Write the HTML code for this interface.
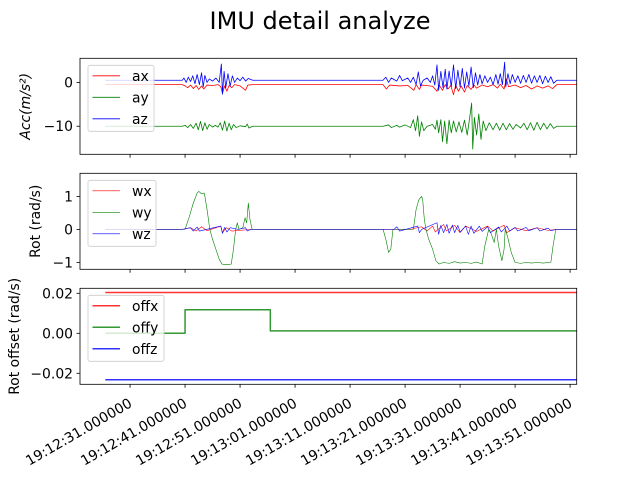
<!DOCTYPE html>
<html><head><meta charset="utf-8"><style>
body{margin:0;background:#fff}
svg{display:block;font-family:"DejaVu Sans","Liberation Sans",sans-serif}
</style></head><body>
<svg id="fig" width="640" height="480" viewBox="0 0 640 480">
<text x="320" y="29" font-size="24" text-anchor="middle" fill="#000">IMU detail analyze</text>
<g id="plots"></g>
</svg>
<script>
const xTickLabels=["19:12:31.000000","19:12:41.000000","19:12:51.000000","19:13:01.000000","19:13:11.000000","19:13:21.000000","19:13:31.000000","19:13:41.000000","19:13:51.000000"];
const xTickSecs=[31,41,51,61,71,81,91,101,111];
const accTicks=[0,-10];
const rotTicks=[1,0,-1];
const offTicks=[0.02,0.00,-0.02];
const offTickLabels=["0.02","0.00","\u22120.02"];
const ax=[[26.5,-0.5],[40.5,-0.5],[41,-0.8],[41.5,-1.2],[42,-0.6],[42.5,-1.4],[43,-0.7],[43.5,-1.6],[44,-0.8],[44.4,-1.5],[45,-0.6],[46,-0.7],[47,-0.5],[47.5,-1],[47.8,-2.5],[48.2,-0.8],[48.6,-2],[49,-0.7],[49.5,-1.2],[50,-0.5],[51,-0.8],[52,-1.8],[52.4,-0.6],[53.3,-0.5],[77,-0.5],[77.6,-1.5],[78.2,-0.6],[80,-0.8],[81.5,-0.7],[82.6,-1.8],[83,-0.5],[83.6,-1.6],[84,-0.6],[85,-0.7],[86,-0.9],[86.8,-2],[87.2,-0.6],[87.8,-1.8],[88.3,-0.5],[88.8,-1.5],[89.3,-0.7],[89.8,-2.8],[90.2,-0.6],[90.7,-2],[91.2,-0.8],[91.8,-2.2],[92.3,-0.7],[93,-1.6],[93.5,-0.6],[94,-1.3],[95,-0.6],[96,-1],[97,-0.5],[97.8,-1.3],[98.3,-0.4],[99,-1.5],[99.4,0.8],[99.8,-1],[101,-0.6],[102,-1.2],[103,-0.7],[104,-1.5],[105,-0.8],[106,-1.3],[107,-0.8],[107.8,-1.4],[108.6,-0.5],[112.2,-0.5]];
const ay=[[26.5,-10],[40.5,-10],[41,-9.8],[41.5,-10.3],[42,-9.6],[42.5,-10.5],[43,-9.3],[43.4,-10.8],[43.8,-8.9],[44.2,-11],[44.6,-9.2],[45,-10.7],[45.4,-9.6],[46,-10.2],[46.5,-9.8],[47,-10.2],[47.4,-9.2],[47.8,-10.9],[48.2,-8.8],[48.6,-11.1],[49,-9.3],[49.4,-10.8],[49.8,-9.6],[50.3,-10.3],[51,-9.9],[52,-10.1],[52.3,-9.5],[52.6,-10.4],[53.3,-10],[77,-10],[78,-9.7],[78.5,-10.3],[79.5,-9.8],[80,-10.2],[81,-9.7],[82,-10.3],[82.5,-8.5],[82.9,-11],[83.3,-7.6],[83.6,-12.3],[84,-9],[84.4,-11],[85,-10],[86,-9.6],[86.5,-10.7],[86.8,-8.6],[87.1,-11.5],[87.5,-8.5],[87.8,-13.5],[88.2,-8.8],[88.6,-14],[89,-8.6],[89.4,-11.5],[89.8,-8.8],[90.3,-11.3],[90.8,-9],[91.3,-11.4],[91.8,-8.6],[92.3,-12],[92.8,-7.5],[93.1,-4.7],[93.3,-15.2],[93.6,-8],[94,-12],[94.4,-7.2],[94.8,-13],[95.2,-8.8],[95.7,-11],[96.3,-9.2],[97,-10.8],[97.6,-9.3],[98.2,-10.9],[98.8,-9.3],[99.4,-10.8],[100,-9.4],[100.6,-10.7],[101.2,-9.6],[102,-10.4],[102.6,-9.3],[103.2,-10.8],[103.8,-9.2],[104.4,-10.9],[105,-9.1],[105.6,-10.8],[106.2,-9.3],[106.8,-10.6],[107.4,-9.4],[108,-10.5],[108.6,-10],[112.2,-10]];
const az=[[26.5,0.5],[40.5,0.5],[40.8,1.0],[41.2,0],[41.6,1.2],[42,0.2],[42.4,1.5],[42.8,-0.3],[43.2,1.8],[43.6,-0.5],[44,2.2],[44.3,-1],[44.6,1.6],[45,0],[45.4,0.8],[46,0.3],[46.6,1],[47.2,0],[47.6,4.2],[47.8,-2.7],[48.1,2.5],[48.4,-1.2],[48.8,2],[49.2,-0.8],[49.6,1.5],[50,0],[50.5,1],[51,0.4],[51.5,1.2],[52,0.3],[52.5,0.9],[53.3,0.5],[77,0.5],[77.5,1.2],[78,0],[78.5,1],[79.5,0.3],[80,1.6],[80.5,0.4],[81.5,1],[82,0],[82.5,1.2],[83,-0.5],[83.4,2.4],[83.8,-0.8],[84.3,0.5],[85,1],[85.6,0],[86,1.5],[86.4,-0.6],[86.8,4],[87.1,-1.8],[87.5,2.5],[87.9,-1.2],[88.3,3],[88.6,-1.5],[89,2.6],[89.4,-1],[89.8,4],[90.2,-1.4],[90.6,2.8],[91,-1],[91.4,3.2],[91.8,-1.3],[92.2,2.4],[92.6,-0.8],[93,3.5],[93.4,-1.2],[93.8,2.2],[94.2,-0.6],[94.6,1.8],[95,-0.3],[95.5,1.5],[96,0],[96.5,1.2],[97,-0.5],[97.5,1.8],[97.9,-0.4],[98.3,2],[98.7,-0.5],[99.1,4.6],[99.3,-1],[99.7,2],[100.1,-0.3],[100.5,1.8],[101,0],[101.5,1.5],[102,-0.2],[102.5,1.6],[103,0],[103.5,1.8],[104,-0.2],[104.5,1.5],[105,0],[105.5,1.6],[106,-0.3],[106.5,1.4],[107,0],[107.5,1.3],[108,-0.2],[108.6,0.5],[112.2,0.5]];
const wx=[[26.5,0],[40.5,0],[42,0.05],[43,-0.05],[44,0.08],[45,-0.04],[47.5,0.1],[47.8,-0.1],[48.5,0.05],[49.5,-0.05],[53,0],[82,0],[84,0.08],[85,-0.05],[86,0.1],[86.5,-0.08],[88,0.15],[88.5,-0.05],[90,0.12],[91,-0.1],[92,0.1],[94,-0.06],[96,0.1],[97,-0.05],[99,0.13],[99.5,-0.1],[101,0.05],[103,-0.04],[105,0.05],[107,-0.03],[108.5,0],[112.2,0]];
const wy=[[26.5,0],[41,0],[41.8,0.4],[42.5,0.8],[43.2,1.1],[43.5,1.15],[44,1.08],[44.5,1.1],[45,0.6],[45.5,0],[46,-0.3],[46.6,-0.6],[47.2,-0.9],[47.7,-1.05],[48.5,-1.07],[49.4,-1.05],[49.8,-0.6],[50.2,0],[50.5,0.2],[50.8,0],[51.5,0.05],[51.9,0.35],[52.2,0.2],[52.5,0.8],[52.8,0.3],[53.2,0],[77,0],[77.5,-0.3],[78,-0.7],[78.4,-0.6],[78.8,0],[82.5,0],[83,0.6],[83.5,0.9],[84,1.0],[84.2,0.9],[84.5,0.3],[84.8,0],[85.3,-0.3],[86,-0.6],[86.6,-0.95],[87.2,-1.05],[88,-1.0],[89,-1.03],[90,-0.98],[91,-1.02],[92,-1.0],[93,-1.03],[94,-0.99],[95,-1.05],[95.5,-0.5],[96.2,0],[96.6,-0.1],[97.2,-0.4],[97.6,0],[98.0,-0.5],[98.6,-0.95],[99,-0.6],[99.2,0],[99.6,-0.2],[100.3,-0.7],[101,-1.0],[102,-1.03],[103,-1.0],[104,-1.02],[105,-1.0],[106,-1.02],[107.5,-1.0],[107.9,-0.5],[108.4,0],[112.2,0]];
const wz=[[26.5,0],[40.5,0],[42,0.05],[42.5,-0.05],[43.2,0.07],[43.6,-0.05],[47.5,0.1],[47.8,-0.12],[48.2,0.06],[48.6,-0.08],[49.2,0.05],[50.6,0],[52,0.05],[52.3,-0.05],[53,0],[79,0],[79.5,0.08],[80,-0.05],[83.3,0.1],[83.6,-0.1],[84,0],[86.8,0.2],[87.1,-0.15],[87.5,0.12],[88,-0.1],[88.6,0.15],[89,-0.12],[89.6,0.13],[90,-0.1],[90.6,0.12],[91,-0.08],[92,0.1],[92.5,-0.15],[93,0.1],[93.5,-0.12],[94.5,0.1],[95,-0.06],[96,0.08],[96.5,-0.1],[98,0.07],[98.5,-0.08],[99.5,0.1],[100,-0.05],[101,0.06],[101.5,-0.05],[103,0.06],[103.5,-0.04],[105,0.05],[105.5,-0.05],[107,0.04],[107.5,-0.04],[108.5,0],[112.2,0]];
const offx=[[26.5,0.0204],[112.2,0.0204]];
const offy=[[26.5,0],[41,0],[41,0.0118],[56.5,0.0118],[56.5,0.0012],[112.2,0.0012]];
const offz=[[26.5,-0.0232],[112.2,-0.0232]];

const NS="http://www.w3.org/2000/svg";
const root=document.getElementById('plots');
const X0=80,X1=576.7,T0=21.9,T1=112.2;
function xs(t){return X0+(t-T0)/(T1-T0)*(X1-X0);}
function mk(tag,attrs,parent){const e=document.createElementNS(NS,tag);for(const k in attrs)e.setAttribute(k,attrs[k]);(parent||root).appendChild(e);return e;}

const panels=[
 {name:'acc',top:58.3,bot:154.3,ymax:5.5,ymin:-16.4,ticks:accTicks,labels:["0","\u221210"],series:[[ax,'#ff0000','ax'],[ay,'#008000','ay'],[az,'#0000ff','az']],lw:0.8,legW:66,ylabel:'Acc(m/s²)',ylx:30,italic:true},
 {name:'rot',top:173.3,bot:269.3,ymax:1.70,ymin:-1.21,ticks:rotTicks,labels:["1","0","\u22121"],series:[[wx,'#ff0000','wx'],[wy,'#008000','wy'],[wz,'#0000ff','wz']],lw:0.6,legW:68,ylabel:'Rot (rad/s)',ylx:40},
 {name:'offset',top:288.3,bot:384.3,ymax:0.0225,ymin:-0.0255,ticks:offTicks,labels:offTickLabels,series:[[offx,'#ff0000','offx'],[offy,'#008000','offy'],[offz,'#0000ff','offz']],lw:1.5,legW:76,ylabel:'Rot offset (rad/s)',ylx:19,alpha:0.8}
];
panels.forEach((p,pi)=>{
  const g=mk('g',{});
  
  
  const ys=v=>p.bot-(v-p.ymin)/(p.ymax-p.ymin)*(p.bot-p.top);
  const cid='clip'+pi;
  const cp=mk('clipPath',{id:cid},g);mk('rect',{x:X0,y:p.top,width:X1-X0,height:p.bot-p.top},cp);
  const sg=mk('g',{'clip-path':'url(#'+cid+')'},g);
  p.series.forEach(s=>{
    const d=s[0].map((q,i)=>(i?'L':'M')+xs(q[0]).toFixed(2)+','+ys(q[1]).toFixed(2)).join('');
    const path=mk('path',{d:d,fill:'none',stroke:s[1],'stroke-width':p.lw,'stroke-opacity':p.alpha||1,'stroke-linejoin':'round'},sg);
    
    
  });
  const frame=mk('rect',{x:X0,y:p.top,width:X1-X0,height:p.bot-p.top,fill:'none',stroke:'#000','stroke-width':0.8},g);
  
  
  p.ticks.forEach((v,i)=>{
    const y=ys(v);
    mk('line',{x1:X0-3.5,x2:X0,y1:y,y2:y,stroke:'#000','stroke-width':0.8},g);
    const t=mk('text',{x:X0-7,y:y+5,'font-size':13.9,'text-anchor':'end',fill:'#000'},g);
    t.textContent=p.labels[i];
    
    
  });
  xTickSecs.forEach((s,i)=>{
    const x=xs(s);
    mk('line',{x1:x,x2:x,y1:p.bot,y2:p.bot+3.5,stroke:'#000','stroke-width':0.8},g);
    if(pi===2){
      const t=mk('text',{x:x+3,y:406,'font-size':13.9,'text-anchor':'end',fill:'#000',transform:'rotate(-30 '+(x+3)+' 406)'},g);
      t.textContent=xTickLabels[i];
      
      
    }
  });
  const cy=(p.top+p.bot)/2;
  const yl=mk('text',{x:p.ylx,y:cy,'font-size':13.9,'text-anchor':'middle',fill:'#000',transform:'rotate(-90 '+p.ylx+' '+cy+')','font-style':p.italic?'italic':'normal'},g);
  yl.textContent=p.ylabel;
  
  
  const lg=mk('g',{},g);
  
  
  const lx=88,ly=p.top+7;
  mk('rect',{x:lx,y:ly,width:p.legW,height:66,rx:2,fill:'#fff','fill-opacity':0.8,stroke:'#ccc','stroke-width':0.8},lg);
  p.series.forEach((s,i)=>{
    const yy=ly+10.5+i*21.5;
    mk('line',{x1:lx+4.5,x2:lx+32,y1:yy,y2:yy,stroke:s[1],'stroke-width':p.lw,'stroke-opacity':p.alpha||1},lg);
    const t=mk('text',{x:lx+44,y:yy+5,'font-size':13.9,fill:'#000'},lg);
    t.textContent=s[2];
    
    
  });
});
</script>
</body></html>
